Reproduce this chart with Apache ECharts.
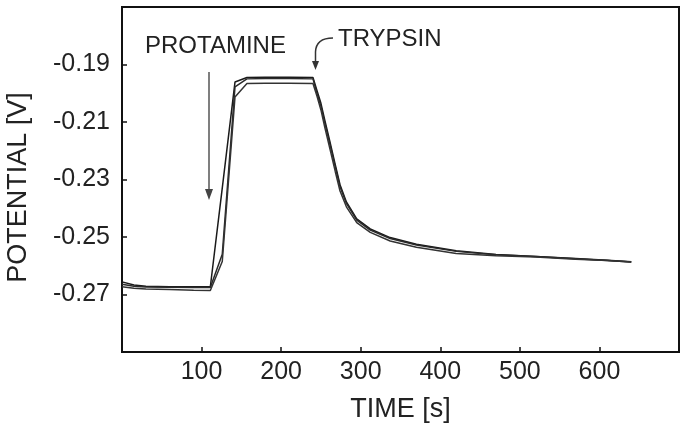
<!DOCTYPE html>
<html>
<head>
<meta charset="utf-8">
<script src="https://cdn.jsdelivr.net/npm/echarts@6/dist/echarts.min.js"></script>
<style>
html,body{margin:0;padding:0;background:#fff;}
#c{width:687px;height:432px;}
</style>
</head>
<body>
<div id="c"></div>
<script>
// time [s]
var times = [0, 15, 30, 60, 90, 111, 126, 142, 157, 180, 210, 240, 245, 250, 255, 261, 268, 274, 282, 295, 312, 337, 370, 420, 470, 520, 570, 610, 640];
// potential [V], three runs
var runA = [-0.2656, -0.2667, -0.2671, -0.2673, -0.2673, -0.2673, -0.2330, -0.1961, -0.1945, -0.1944, -0.1944, -0.1945, -0.1990, -0.2035, -0.2095, -0.2165, -0.2248, -0.2318, -0.2378, -0.2437, -0.2472, -0.2502, -0.2525, -0.2548, -0.2561, -0.2568, -0.2575, -0.2581, -0.2586];
var runB = [-0.2664, -0.2671, -0.2674, -0.2675, -0.2676, -0.2676, -0.2560, -0.1978, -0.1950, -0.1949, -0.1949, -0.1950, -0.2000, -0.2045, -0.2105, -0.2174, -0.2256, -0.2325, -0.2383, -0.2441, -0.2476, -0.2505, -0.2528, -0.2550, -0.2562, -0.2568, -0.2576, -0.2582, -0.2587];
var runC = [-0.2673, -0.2678, -0.2681, -0.2683, -0.2685, -0.2686, -0.2585, -0.2013, -0.1966, -0.1965, -0.1965, -0.1966, -0.2010, -0.2058, -0.2120, -0.2190, -0.2272, -0.2340, -0.2395, -0.2450, -0.2484, -0.2514, -0.2536, -0.2557, -0.2565, -0.2570, -0.2577, -0.2582, -0.2587];
var xTickLabels = ['100', '200', '300', '400', '500', '600'];
var yTickLabels = ['-0.27', '-0.25', '-0.23', '-0.21', '-0.19'];
var annotations = ['PROTAMINE', 'TRYPSIN'];

function pairs(ys){ return times.map(function(t,i){ return [t, ys[i]]; }); }

var FONT = '"Liberation Sans", Arial, sans-serif';
var chart = echarts.init(document.getElementById('c'), null, {renderer:'canvas'});

function mkSeries(name, ys, color){
  return {
    name: name, type: 'line', data: pairs(ys), symbol: 'none', smooth: false,
    lineStyle: {color: color, width: 1.5}, animation: false
  };
}

chart.setOption({
  animation: false,
  backgroundColor: '#fff',
  grid: {left: 122, right: 8, top: 7, bottom: 80, outerBoundsMode: 'none', containLabel: false, show: true, borderColor: '#111', borderWidth: 2, backgroundColor: 'transparent'},
  xAxis: {
    type: 'value', min: 0, max: 700, interval: 100,
    name: 'TIME [s]', nameLocation: 'middle', nameGap: 44,
    nameTextStyle: {fontFamily: FONT, fontSize: 27, color: '#222'},
    axisLine: {show: true, lineStyle: {color: '#111', width: 2}},
    axisTick: {show: true, inside: true, length: 5, lineStyle: {color: '#111', width: 1.5}},
    splitLine: {show: false},
    axisLabel: {
      fontFamily: FONT, fontSize: 25, color: '#222', margin: 8,
      formatter: function(v){ var s = String(Math.round(v)); return xTickLabels.indexOf(s) >= 0 ? s : ''; }
    }
  },
  yAxis: {
    type: 'value', min: -0.29, max: -0.17, interval: 0.02,
    name: 'POTENTIAL [V]', nameLocation: 'middle', nameGap: 90, nameRotate: 90,
    nameTextStyle: {fontFamily: FONT, fontSize: 27, color: '#222', padding: [0, 16, 0, 0]},
    axisLine: {show: true, lineStyle: {color: '#111', width: 2}},
    axisTick: {show: true, inside: true, length: 5, lineStyle: {color: '#111', width: 1.5}},
    splitLine: {show: false},
    axisLabel: {
      fontFamily: FONT, fontSize: 25, color: '#222', margin: 12,
      formatter: function(v){ var s = v.toFixed(2); return yTickLabels.indexOf(s) >= 0 ? s : ''; }
    }
  },
  series: [
    mkSeries('A', runA, '#1a1a1a'),
    mkSeries('B', runB, '#2a2a2a'),
    mkSeries('C', runC, '#333333')
  ],
  graphic: [
    {type: 'text', x: 145, y: 46, style: {text: annotations[0], font: '24px ' + FONT, fill: '#222', textVerticalAlign: 'middle', verticalAlign: 'middle'}},
    {type: 'text', x: 338, y: 39, style: {text: annotations[1], font: '24px ' + FONT, fill: '#222', textVerticalAlign: 'middle', verticalAlign: 'middle'}},
    {type: 'line', shape: {x1: 209, y1: 72, x2: 209, y2: 192}, style: {stroke: '#555', lineWidth: 1.5}},
    {type: 'polygon', shape: {points: [[205, 189], [213, 189], [209, 200]]}, style: {fill: '#444'}},
    {type: 'bezierCurve', shape: {x1: 333, y1: 38, x2: 315.5, y2: 52, cpx1: 316, cpy1: 38}, style: {stroke: '#333', lineWidth: 1.5, fill: null}},
    {type: 'line', shape: {x1: 315.5, y1: 52, x2: 315.5, y2: 62}, style: {stroke: '#333', lineWidth: 1.5}},
    {type: 'polygon', shape: {points: [[312, 61], [319, 61], [315.5, 70]]}, style: {fill: '#333'}}
  ]
});
</script>
</body>
</html>
